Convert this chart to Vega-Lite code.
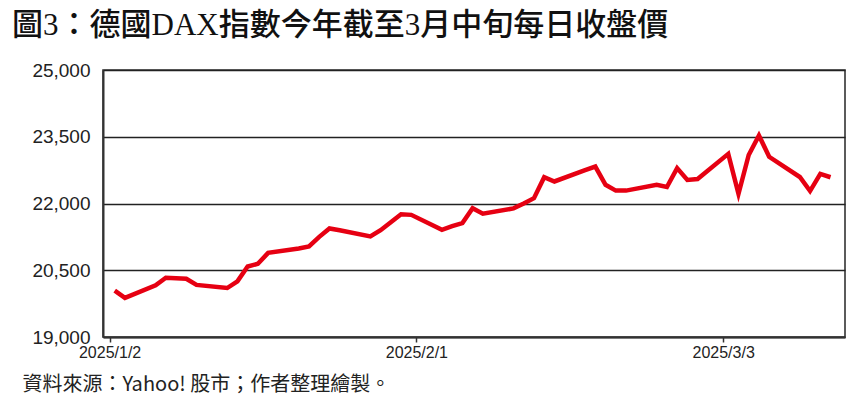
{
  "$schema": "https://vega.github.io/schema/vega-lite/v6.json",
  "autosize": "none",
  "width": 742,
  "height": 267,
  "padding": {"left": 103, "top": 70, "right": 22, "bottom": 69},
  "background": "white",
  "title": {
    "text": "圖3：德國DAX指數今年截至3月中旬每日收盤價",
    "anchor": "start",
    "frame": "group",
    "dx": -91,
    "offset": 19,
    "font": "Liberation Serif, Noto Sans CJK TC",
    "fontSize": 31,
    "fontWeight": 500,
    "color": "#111"
  },
  "config": {
    "view": {"stroke": "#333", "strokeWidth": 1.6},
    "axis": {"labelColor": "#222", "domainColor": "#333", "tickColor": "#333"}
  },
  "data": {
    "values": [
      {"date": "2025-01-02", "close": 20040},
      {"date": "2025-01-03", "close": 19880},
      {"date": "2025-01-06", "close": 20160},
      {"date": "2025-01-07", "close": 20330},
      {"date": "2025-01-08", "close": 20320},
      {"date": "2025-01-09", "close": 20310},
      {"date": "2025-01-10", "close": 20170},
      {"date": "2025-01-13", "close": 20100},
      {"date": "2025-01-14", "close": 20250},
      {"date": "2025-01-15", "close": 20585},
      {"date": "2025-01-16", "close": 20645},
      {"date": "2025-01-17", "close": 20890},
      {"date": "2025-01-20", "close": 20990},
      {"date": "2025-01-21", "close": 21035},
      {"date": "2025-01-22", "close": 21250},
      {"date": "2025-01-23", "close": 21440},
      {"date": "2025-01-24", "close": 21400},
      {"date": "2025-01-27", "close": 21260},
      {"date": "2025-01-28", "close": 21400},
      {"date": "2025-01-29", "close": 21580},
      {"date": "2025-01-30", "close": 21760},
      {"date": "2025-01-31", "close": 21745},
      {"date": "2025-02-03", "close": 21410},
      {"date": "2025-02-04", "close": 21490},
      {"date": "2025-02-05", "close": 21560},
      {"date": "2025-02-06", "close": 21895},
      {"date": "2025-02-07", "close": 21770},
      {"date": "2025-02-10", "close": 21890},
      {"date": "2025-02-11", "close": 22000},
      {"date": "2025-02-12", "close": 22120},
      {"date": "2025-02-13", "close": 22590},
      {"date": "2025-02-14", "close": 22495},
      {"date": "2025-02-17", "close": 22750},
      {"date": "2025-02-18", "close": 22830},
      {"date": "2025-02-19", "close": 22420},
      {"date": "2025-02-20", "close": 22290},
      {"date": "2025-02-21", "close": 22290},
      {"date": "2025-02-24", "close": 22420},
      {"date": "2025-02-25", "close": 22370},
      {"date": "2025-02-26", "close": 22795},
      {"date": "2025-02-27", "close": 22530},
      {"date": "2025-02-28", "close": 22550},
      {"date": "2025-03-03", "close": 23115},
      {"date": "2025-03-04", "close": 22220},
      {"date": "2025-03-05", "close": 23090},
      {"date": "2025-03-06", "close": 23530},
      {"date": "2025-03-07", "close": 23050},
      {"date": "2025-03-10", "close": 22595},
      {"date": "2025-03-11", "close": 22280},
      {"date": "2025-03-12", "close": 22665},
      {"date": "2025-03-13", "close": 22590}
    ]
  },
  "mark": {"type": "line", "color": "#E60012", "strokeWidth": 4.5, "strokeJoin": "miter", "clip": true},
  "encoding": {
    "x": {
      "field": "date",
      "type": "temporal",
      "timeUnit": "utcyearmonthdate",
      "bandPosition": 0.5,
      "scale": {
        "domain": [
          {"year": 2025, "month": 1, "date": 1, "hours": 8, "minutes": 30, "utc": true},
          {"year": 2025, "month": 3, "date": 14, "hours": 22, "utc": true}
        ]
      },
      "axis": {
        "values": [
          {"year": 2025, "month": 1, "date": 2, "utc": true},
          {"year": 2025, "month": 2, "date": 1, "utc": true},
          {"year": 2025, "month": 3, "date": 3, "utc": true}
        ],
        "format": "%Y/%-m/%-d",
        "grid": false,
        "domainWidth": 2,
        "tickSize": 5,
        "tickWidth": 1.5,
        "labelFont": "Liberation Sans",
        "labelFontSize": 16,
        "labelPadding": 2,
        "labelFlush": false,
        "title": "資料來源：Yahoo! 股市；作者整理繪製。",
        "titleFont": "Noto Sans CJK TC",
        "titleFontSize": 20,
        "titleFontWeight": "normal",
        "titleColor": "#222",
        "titleAnchor": "start",
        "titleAlign": "left",
        "titleBaseline": "alphabetic",
        "titleX": -81,
        "titleY": 53
      }
    },
    "y": {
      "field": "close",
      "type": "quantitative",
      "scale": {"domain": [19000, 25000], "nice": false, "zero": false},
      "axis": {
        "values": [19000, 20500, 22000, 23500, 25000],
        "format": ",.0f",
        "title": null,
        "ticks": false,
        "labelPadding": 13,
        "labelFont": "Liberation Sans",
        "labelFontSize": 19,
        "domainWidth": 2,
        "gridColor": "#222",
        "gridWidth": 1.5,
        "gridOpacity": 1
      }
    }
  }
}
